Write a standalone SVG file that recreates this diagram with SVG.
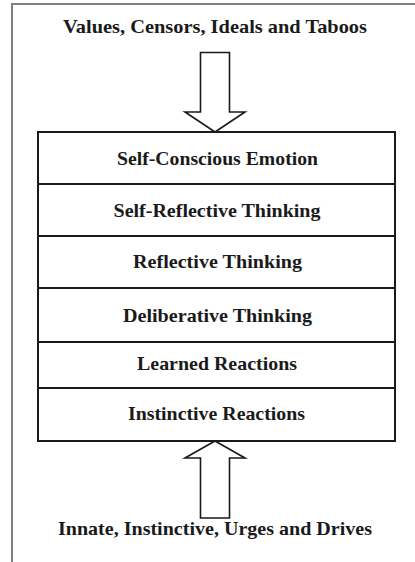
<svg xmlns="http://www.w3.org/2000/svg" width="415" height="562" viewBox="0 0 415 562">
<style>
.t{font-family:"Liberation Serif","Times New Roman",serif;font-weight:bold;font-size:19px;fill:#1a1a1a;text-anchor:middle}
.row{fill:#fff;stroke:#1a1a1a;stroke-width:2}
.arr{fill:#fff;stroke:#1a1a1a;stroke-width:1.6;stroke-linejoin:miter}
</style>
<rect width="415" height="562" fill="#fff"/>
<path d="M416,4 H12 V563" fill="none" stroke="#808080" stroke-width="2"/>
<g id="label-top"><text class="t" x="215" y="33" textLength="304" lengthAdjust="spacingAndGlyphs">Values, Censors, Ideals and Taboos</text></g>
<g id="label-bottom"><text class="t" x="215" y="535" textLength="314" lengthAdjust="spacingAndGlyphs">Innate, Instinctive, Urges and Drives</text></g>
<g id="row1"><rect class="row" x="38" y="132" width="357" height="52"/><text class="t" x="217.5" y="165" textLength="201" lengthAdjust="spacingAndGlyphs">Self-Conscious Emotion</text></g>
<g id="row2"><rect class="row" x="38" y="184" width="357" height="52"/><text class="t" x="217" y="217" textLength="207" lengthAdjust="spacingAndGlyphs">Self-Reflective Thinking</text></g>
<g id="row3"><rect class="row" x="38" y="236" width="357" height="52"/><text class="t" x="217.5" y="268" textLength="169" lengthAdjust="spacingAndGlyphs">Reflective Thinking</text></g>
<g id="row4"><rect class="row" x="38" y="288" width="357" height="54"/><text class="t" x="217.5" y="322" textLength="189" lengthAdjust="spacingAndGlyphs">Deliberative Thinking</text></g>
<g id="row5"><rect class="row" x="38" y="342" width="357" height="46"/><text class="t" x="217" y="370" textLength="160" lengthAdjust="spacingAndGlyphs">Learned Reactions</text></g>
<g id="row6"><rect class="row" x="38" y="388" width="357" height="53"/><text class="t" x="216.5" y="420" textLength="177" lengthAdjust="spacingAndGlyphs">Instinctive Reactions</text></g>
<g id="connectors">
<path class="arr" d="M200.5,52.5 H229.5 V112 H245 L215,132 L185,112 H200.5 Z"/>
<path class="arr" d="M215,441 L245,458 H229.5 V518 H200.5 V458 H185 Z"/>
</g>
</svg>
